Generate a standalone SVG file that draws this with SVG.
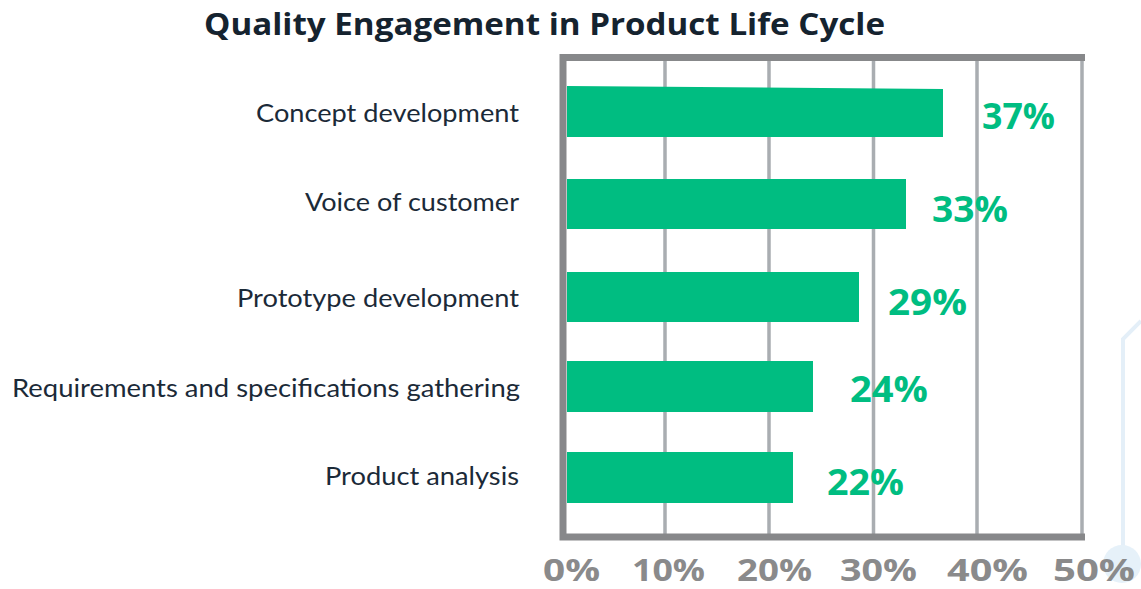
<svg xmlns="http://www.w3.org/2000/svg" width="1141" height="589" viewBox="0 0 1141 589">
<style>
.title{font-family:"Open Sans","Liberation Sans",sans-serif;font-weight:700;font-size:31px;fill:#15232f}
.cat{font-family:Lato,"Liberation Sans",sans-serif;font-size:25px;fill:#1b2a38;text-anchor:end}
.val{font-family:"Open Sans","Liberation Sans",sans-serif;font-weight:700;font-size:36px;fill:#00bd81}
.tick{font-family:"Open Sans","Liberation Sans",sans-serif;font-weight:700;font-size:30px;fill:#8a8a8b}
.grid{stroke:#a9adb1;stroke-width:3.5;fill:none}
.axis{stroke:#87888a;stroke-width:7;fill:none}
.bar{fill:#00bd81}
.deco{stroke:#e4eff8;stroke-width:4;fill:none}
</style>
<rect width="1141" height="589" fill="#ffffff"/>
<text class="title" x="204" y="35" textLength="681" lengthAdjust="spacingAndGlyphs">Quality Engagement in Product Life Cycle</text>
<g id="decoration">
<path class="deco" d="M1141,321 L1123,339 L1123,560"/>
<circle cx="1122" cy="564" r="19" fill="#e6f1f9"/>
</g>
<g id="grid">
<line class="grid" x1="665" y1="60" x2="665" y2="534"/>
<line class="grid" x1="769" y1="60" x2="769" y2="534"/>
<line class="grid" x1="873.5" y1="60" x2="873.5" y2="534"/>
<line class="grid" x1="977" y1="60" x2="977" y2="534"/>
<line class="grid" x1="1082" y1="60" x2="1082" y2="534"/>
</g>
<g id="axes">
<path class="axis" d="M1085,57.5 L563,57.5 L563,537 L1085,537"/>
</g>
<g id="bar-concept">
<polygon class="bar" points="567,86 943,89 943,137 567,137"/>
<text class="val" x="982" y="129" textLength="73" lengthAdjust="spacingAndGlyphs">37%</text>
<text class="cat" x="519" y="122" textLength="263" lengthAdjust="spacingAndGlyphs">Concept development</text>
</g>
<g id="bar-voice">
<rect class="bar" x="567" y="179" width="339" height="50"/>
<text class="val" x="932" y="222" textLength="76" lengthAdjust="spacingAndGlyphs">33%</text>
<text class="cat" x="519" y="211" textLength="214" lengthAdjust="spacingAndGlyphs">Voice of customer</text>
</g>
<g id="bar-prototype">
<rect class="bar" x="567" y="272" width="292" height="50"/>
<text class="val" x="888" y="315" textLength="79" lengthAdjust="spacingAndGlyphs">29%</text>
<text class="cat" x="519" y="307" textLength="282" lengthAdjust="spacingAndGlyphs">Prototype development</text>
</g>
<g id="bar-requirements">
<rect class="bar" x="567" y="361" width="246" height="51"/>
<text class="val" x="850" y="402" textLength="78" lengthAdjust="spacingAndGlyphs">24%</text>
<text class="cat" x="520" y="397" textLength="508" lengthAdjust="spacingAndGlyphs">Requirements and specifications gathering</text>
</g>
<g id="bar-product">
<rect class="bar" x="567" y="452" width="226" height="51"/>
<text class="val" x="827" y="495" textLength="77" lengthAdjust="spacingAndGlyphs">22%</text>
<text class="cat" x="519" y="485" textLength="194" lengthAdjust="spacingAndGlyphs">Product analysis</text>
</g>
<g id="x-ticks">
<text class="tick" x="543" y="581" textLength="57" lengthAdjust="spacingAndGlyphs">0%</text>
<text class="tick" x="632" y="581" textLength="73" lengthAdjust="spacingAndGlyphs">10%</text>
<text class="tick" x="737" y="581" textLength="75" lengthAdjust="spacingAndGlyphs">20%</text>
<text class="tick" x="840" y="581" textLength="77" lengthAdjust="spacingAndGlyphs">30%</text>
<text class="tick" x="947" y="581" textLength="81" lengthAdjust="spacingAndGlyphs">40%</text>
<text class="tick" x="1053" y="581" textLength="82" lengthAdjust="spacingAndGlyphs">50%</text>
</g>
<g id="connectors"></g>
</svg>
